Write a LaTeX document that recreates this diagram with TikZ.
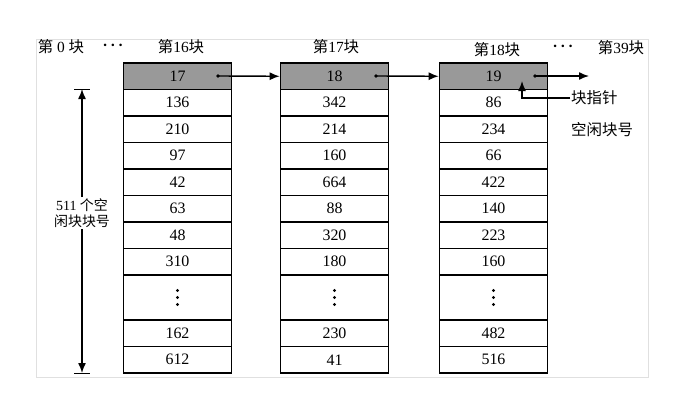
\documentclass[tikz,border=0pt]{standalone}
\usepackage{fontspec}
\setmainfont{Liberation Serif}
\newfontfamily\cjk{Noto Sans CJK SC}
\usetikzlibrary{arrows.meta}
\begin{document}
\begin{tikzpicture}[x=1bp,y=-1bp,
  cell/.style={draw,line width=1.1bp,minimum width=108.5bp,minimum height=26.5bp,inner sep=0pt,font=\fontsize{16}{18}\selectfont},
  head/.style={cell,fill=black!40},
  dotcell/.style={cell,minimum height=45bp},
  lbl/.style={inner sep=1pt,font=\fontsize{15.5}{18}\selectfont},
  link/.style={line width=1.4bp,-{Latex[length=10bp,width=8bp]}}]
\useasboundingbox (0,0) rectangle (683,404);
\draw[black!12,line width=1bp] (36.5,39.5) rectangle (648,377);

% block headings
\node[lbl] (h0) at (61,47) {{\cjk 第} 0 {\cjk 块}};
\node[lbl] (d0) at (113,47) {\textbf{·\,·\,·}};
\node[lbl] (h16) at (181,47) {{\cjk 第}16{\cjk 块}};
\node[lbl] (h17) at (336,47) {{\cjk 第}17{\cjk 块}};
\node[lbl] (h18) at (497,50) {{\cjk 第}18{\cjk 块}};
\node[lbl] (d1) at (563,48) {\textbf{·\,·\,·}};
\node[lbl] (h39) at (621,48) {{\cjk 第}39{\cjk 块}};

% block 16
\node[head] (a0) at (177.5,76.25) {17};
\foreach \v [count=\i] in {136,210,97,42,63,48,310}
  \node[cell] (a\i) at (177.5,{76.25+26.5*\i}) {\v};
\node[dotcell] (a8) at (177.5,297.5) {};
\node[cell] (a9) at (177.5,333.25) {162};
\node[cell] (a10) at (177.5,359.75) {612};

% block 17
\node[head] (b0) at (334.5,76.25) {18};
\foreach \v [count=\i] in {342,214,160,664,88,320,180}
  \node[cell] (b\i) at (334.5,{76.25+26.5*\i}) {\v};
\node[dotcell] (b8) at (334.5,297.5) {};
\node[cell] (b9) at (334.5,333.25) {230};
\node[cell] (b10) at (334.5,359.75) {41};

% block 18
\node[head] (c0) at (493.5,76.25) {19};
\foreach \v [count=\i] in {86,234,66,422,140,223,160}
  \node[cell] (c\i) at (493.5,{76.25+26.5*\i}) {\v};
\node[dotcell] (c8) at (493.5,297.5) {};
\node[cell] (c9) at (493.5,333.25) {482};
\node[cell] (c10) at (493.5,359.75) {516};

% vertical dots
\foreach \n in {a8,b8,c8}
  \foreach \d in {-7,0,7}
    \fill ([yshift=\d bp]\n.center) circle (1.6);

% links between blocks
\coordinate (s0) at (218,76);
\coordinate (s1) at (376,76);
\coordinate (s2) at (535,76);
\coordinate (e2) at (589,76);
\foreach \p in {s0,s1,s2} \fill (\p) circle (1.8);
\draw[link] (s0) -- (b0.west);
\draw[link] (s1) -- (c0.west);
\draw[link] (s2) -- (e2);

% pointer labels
\node[lbl,anchor=west] (ptr) at (570,98) {\cjk 块指针};
\node[lbl,anchor=west] (num) at (570,130) {\cjk 空闲块号};
\coordinate (q) at (522,81);
\draw[link] (ptr.west) -| (q);

% 511 entries
\coordinate (dt) at (82,89);
\coordinate (db) at (82,373);
\draw[line width=1bp] ([xshift=-8bp]dt) -- ([xshift=8bp]dt);
\draw[line width=1bp] ([xshift=-8bp]db) -- ([xshift=8bp]db);
\node[lbl,align=center,font=\fontsize{14}{16.5}\selectfont] (n511) at (82,213) {511 {\cjk 个空}\\{\cjk 闲块块号}};
\draw[link] (n511) -- (dt);
\draw[link] (n511) -- (db);
\end{tikzpicture}
\end{document}
